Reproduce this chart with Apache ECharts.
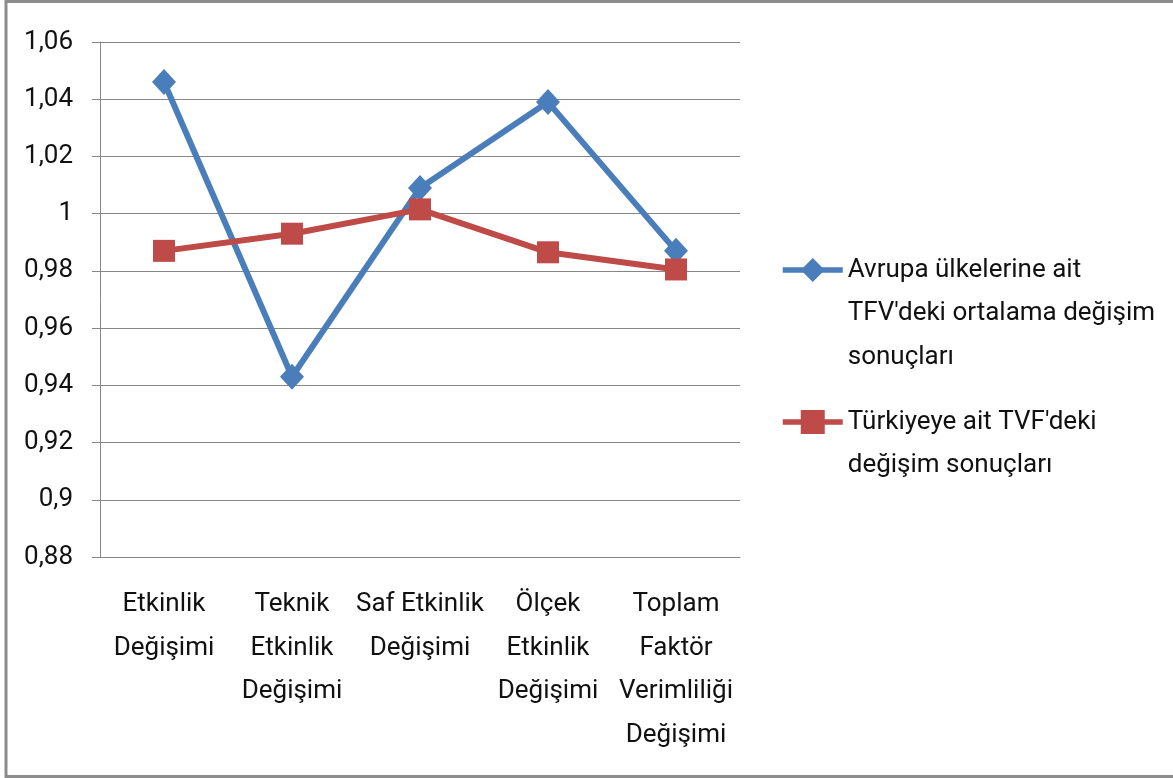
<!DOCTYPE html>
<html>
<head>
<meta charset="utf-8">
<script src="https://cdn.jsdelivr.net/npm/echarts@6/dist/echarts.min.js"></script>
<style>
  html, body { margin: 0; padding: 0; background: #fff; }
  #chart { width: 1173px; height: 778px; }
</style>
</head>
<body>
<div id="chart"></div>
<script>
// kategoriler
const categories = [
  'Etkinlik\nDeğişimi',
  'Teknik\nEtkinlik\nDeğişimi',
  'Saf Etkinlik\nDeğişimi',
  'Ölçek\nEtkinlik\nDeğişimi',
  'Toplam\nFaktör\nVerimliliği\nDeğişimi'
]
const avrupaName = "Avrupa ülkelerine ait\nTFV'deki ortalama değişim\nsonuçları"
const turkiyeName = "Türkiyeye ait TVF'deki\ndeğişim sonuçları"
const avrupaValues = [1.046, 0.943, 1.009, 1.039, 0.987]
const turkiyeValues = [0.987, 0.993, 1.0015, 0.9865, 0.9805]

const FONT = 'Roboto, "Open Sans", sans-serif'
const LH = 43.5
const FS = 26

// legend: ikon ilk satira hizalansin diye basa bos satir ekleniyor
function legendText (name) {
  const n = name.split('\n').length
  return '\n'.repeat(n - 1) + name
}

const chart = echarts.init(document.getElementById('chart'))
const option = {
  animation: false,
  textStyle: { fontFamily: FONT },
  grid: { left: 100, right: 433, top: 42, bottom: 221 },
  graphic: [
    { type: 'rect', shape: { x: 6, y: 1.5, width: 1180, height: 775 }, style: { fill: 'none', stroke: '#8c8c8c', lineWidth: 3 }, silent: true }
  ],
  legend: [
    {
      orient: 'vertical', left: 780, top: 270 - 2.5 * LH, padding: 0,
      itemWidth: 60, itemHeight: 30,
      formatter: legendText,
      lineStyle: { width: 5.5 },
      textStyle: { fontSize: FS, color: '#111', lineHeight: LH, fontFamily: FONT },
      data: [avrupaName]
    },
    {
      orient: 'vertical', left: 780, top: 422 - 1.5 * LH, padding: 0,
      itemWidth: 60, itemHeight: 30,
      formatter: legendText,
      lineStyle: { width: 5.5 },
      textStyle: { fontSize: FS, color: '#111', lineHeight: LH, fontFamily: FONT },
      data: [turkiyeName]
    }
  ],
  xAxis: {
    type: 'category',
    data: categories,
    boundaryGap: true,
    axisLine: { lineStyle: { color: '#868686', width: 1 } },
    axisTick: { length: 9, lineStyle: { color: '#868686' } },
    axisLabel: {
      interval: 0, margin: 26, fontSize: FS, color: '#111',
      lineHeight: LH, fontFamily: FONT
    }
  },
  yAxis: {
    type: 'value',
    min: 0.88,
    max: 1.06,
    interval: 0.02,
    axisLine: { show: true, lineStyle: { color: '#868686', width: 1 } },
    axisTick: { show: true, length: 8, lineStyle: { color: '#868686' } },
    splitLine: { lineStyle: { color: '#868686', width: 1 } },
    axisLabel: {
      margin: 27, fontSize: FS, color: '#111', fontFamily: FONT,
      formatter: function (v) {
        return String(Math.round(v * 100) / 100).replace('.', ',')
      }
    }
  },
  series: [
    {
      name: avrupaName,
      type: 'line',
      data: avrupaValues,
      symbol: 'diamond',
      symbolSize: [24, 26],
      lineStyle: { color: '#4A7EBB', width: 6 },
      itemStyle: { color: '#4A7EBB' },
      z: 3
    },
    {
      name: turkiyeName,
      type: 'line',
      data: turkiyeValues,
      symbol: 'rect',
      symbolSize: 22,
      lineStyle: { color: '#BE4B48', width: 6 },
      itemStyle: { color: '#BE4B48' },
      z: 4
    }
  ]
}
chart.setOption(option)
</script>
</body>
</html>
